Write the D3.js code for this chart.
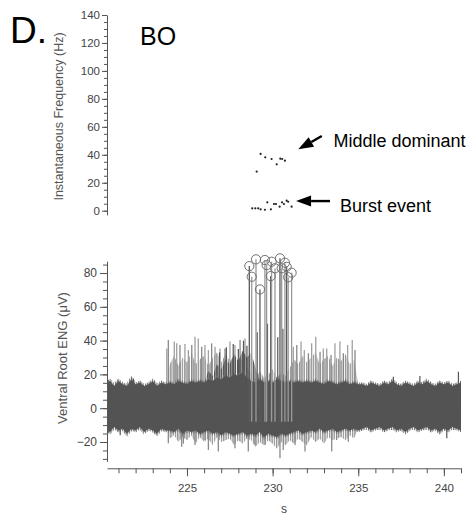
<!DOCTYPE html>
<html><head><meta charset="utf-8">
<script src="https://cdn.jsdelivr.net/npm/d3@7"></script>
<style>html,body{margin:0;padding:0;background:#fff;} svg{display:block;font-family:"Liberation Sans",Arial,sans-serif;}</style>
</head><body><svg id="c" width="475" height="517"></svg>
<script>
// ---------- DATA ----------
const timeTicks = [225, 230, 235, 240];
const freqTicks = [0, 20, 40, 60, 80, 100, 120, 140];
const engTicks = [-20, 0, 20, 40, 60, 80];

// Instantaneous frequency (top panel)
const middleT  = [229.07, 229.30, 229.57, 229.94, 230.24, 230.45, 230.56, 230.72];
const middleHz = [28.0, 40.6, 38.2, 37.0, 33.2, 37.2, 37.0, 35.8];
const burstT  = [228.81, 228.99, 229.16, 229.30, 229.55, 229.69, 229.90, 230.08, 230.20, 230.41, 230.55, 230.66, 230.82, 230.91, 231.11];
const burstHz = [1.7, 1.7, 1.7, 1.0, 0.7, 6.0, 1.0, 4.8, 4.8, 2.9, 6.0, 4.8, 7.2, 6.4, 2.9];

// Ventral root ENG: dense noise band envelope (sampled every 0.25 s from 220.25 s)
const envStart = 220.25, envStep = 0.25;
const envHi = [14,16,13,16,14,13,17,14,15,13,14,16,13,15,14,
               15,14,16,15,14,16,15,16,
               15,17,16,18,17,19,18,20,19,21,18,
               16,15,17,15,16,15,17,16,15,16,
               15,16,15,16,15,16,15,14,16,15,14,15,16,14,15,14,
               14,13,15,14,13,15,14,16,14,13,15,14,13,15,14,16,14,13,15,14,15,13,14,15];
const envLo = [-12,-14,-11,-13,-12,-15,-12,-13,-11,-14,-12,-13,-15,-12,-13,
               -13,-14,-12,-15,-13,-14,-13,-15,-14,-13,-15,-14,-16,-14,-15,-16,-15,-14,-16,
               -15,-16,-14,-17,-15,-16,-17,-15,-16,-15,
               -14,-13,-15,-14,-13,-14,-12,-14,-13,-12,-14,-13,-12,-13,-12,-13,
               -12,-11,-13,-12,-11,-13,-12,-11,-13,-12,-14,-12,-11,-13,-12,-11,-13,-12,-14,-12,-13,-11,-12,-13];

// lighter burst activity mass (sampled every 0.25 s from 223.75 s)
const lightStart = 223.75, lightStep = 0.25;
const lightHi = [14,26,31,25,30,27,33,26,29,31,25,30,33,27,32,28,31,26,30,24,
                 21,17,22,18,20,23,18,21,19,24,29,26,31,27,30,33,26,29,31,25,
                 30,28,32,26,29,14];
const lightLo = [-12,-18,-16,-20,-17,-19,-16,-21,-17,-20,-18,-22,-17,-20,-19,-18,-22,-19,-21,-18,
                 -19,-23,-20,-22,-19,-21,-24,-20,-22,-19,-21,-18,-20,-22,-17,-20,-18,-21,-17,-19,
                 -18,-17,-19,-16,-18,-12];
// darker dense burst mass (sampled every 0.25 s from 226.0 s)
const midStart = 226.0, midStep = 0.25;
const midHi = [15,22,19,26,23,29,26,32,28,34,30,33,24,15];

// individual burst spikes (upward tips)
const upT = [223.82,223.91,224.26,224.40,224.59,224.88,225.08,225.28,225.47,225.66,225.86,226.05,226.25,226.44,226.64,226.93,227.22,227.51,227.80,228.10,228.39,
             231.21,231.41,231.66,231.85,232.09,232.28,232.52,232.77,232.96,233.16,233.41,233.64,233.93,234.13,234.38,234.65,234.81];
const upV = [35.4,40.4,39.4,38.4,37.4,38.0,34.4,37.4,42.3,41.3,36.4,37.4,34.4,38.4,36.4,35.4,35.4,39.4,37.4,40.4,41.3,
             36.4,37.4,39.4,34.4,32.5,38.4,42.3,33.4,35.4,35.4,31.5,38.4,39.4,32.5,37.4,40.4,34.4];
// downward tips
const negT = [223.91,224.69,224.79,225.47,226.05,226.25,226.83,227.80,228.58,228.97,229.56,230.43,230.62,231.31,231.89,233.45,233.74,234.42];
const negV = [-20.8,-22.8,-21.0,-21.8,-18.8,-24.7,-25.7,-23.7,-25.7,-21.8,-21.8,-29.6,-24.7,-21.8,-25.7,-25.7,-18.8,-19.8];
// dark spikes inside the burst
const darkT = [226.9, 227.3, 227.7, 228.0, 228.3, 228.5, 229.1, 229.7, 230.3, 230.6];
const darkV = [33, 36, 38, 35, 40, 37, 45, 50, 42, 47];
// isolated noise tips outside the burst
const tipT = [221.10, 221.87, 237.05, 238.60, 240.17, 240.85];
const tipV = [-16.0, 17.5, 18.6, 19.0, -17.8, 21.6];
// large detected spikes (circled peaks)
const peakT = [228.64,228.78,229.03,229.26,229.55,229.65,229.89,229.94,230.14,230.43,230.53,230.72,230.82,230.91,231.11];
const peakV = [84.1,77.8,88.1,70.3,87.7,84.7,78.2,86.7,82.8,88.7,82.8,86.1,83.7,77.5,80.2];

// ---------- CHART ----------
const svg = d3.select('#c');
const x = d3.scaleLinear().domain([220.33, 241]).range([107, 461]);
const yTop = d3.scaleLinear().domain([-3, 140]).range([214.9, 15]);
const yBot = d3.scaleLinear().domain([-31.5, 87]).range([461.4, 261.2]);

const defs = svg.append('defs');
function hatch(id, color, w){
  const p = defs.append('pattern').attr('id',id).attr('width',2.3).attr('height',10).attr('patternUnits','userSpaceOnUse');
  p.append('rect').attr('width',w).attr('height',10).attr('fill',color);
}
hatch('hL','#979797',1.4);
hatch('hM','#585858',1.6);
hatch('hF','#707070',1.2);

function styleAxis(g, fs){
  g.selectAll('.domain').attr('stroke','#555');
  g.selectAll('.tick line').attr('stroke','#555');
  g.selectAll('.tick text').attr('fill','#444').style('font-size',fs+'px')
   .style('font-family','"Liberation Sans",Arial,sans-serif');
}

// titles
svg.append('text').attr('x',10).attr('y',43).style('font-size','37px').attr('fill','#000').text('D.');
svg.append('text').attr('x',140).attr('y',45).style('font-size','25px').attr('fill','#000').text('BO');

// top y axis
const gT = svg.append('g').attr('transform','translate(107,0)')
  .call(d3.axisLeft(yTop).tickValues(freqTicks).tickSize(5).tickSizeOuter(0).tickPadding(2).tickFormat(d3.format('d')));
styleAxis(gT, 11.5);
const gTm = svg.append('g').attr('transform','translate(107,0)')
  .call(d3.axisLeft(yTop).tickValues(d3.range(0,141,5)).tickSize(3).tickSizeOuter(0).tickFormat(''));
gTm.select('.domain').remove(); styleAxis(gTm, 11.5);
svg.append('text').attr('transform','translate(63,116.5) rotate(-90)').attr('text-anchor','middle')
  .style('font-size','12.5px').attr('fill','#555').text('Instantaneous Frequency (Hz)');

// top dots
svg.append('g').selectAll('circle').data(middleT.map((t,i)=>[t,middleHz[i]]).concat(burstT.map((t,i)=>[t,burstHz[i]])))
  .join('circle').attr('cx',d=>x(d[0])).attr('cy',d=>yTop(d[1])).attr('r',1.1).attr('fill','#222');

// annotations (positioned in data space)
function arrow(t0,v0,t1,v1){
  const x0=x(t0), y0=yTop(v0), x1=x(t1), y1=yTop(v1);
  const a=Math.atan2(y1-y0,x1-x0), L=15, W=5.5;
  const bx=x1-L*Math.cos(a), by=y1-L*Math.sin(a);
  svg.append('line').attr('x1',x0).attr('y1',y0).attr('x2',bx).attr('y2',by).attr('stroke','#000').attr('stroke-width',2.4);
  svg.append('polygon').attr('fill','#000').attr('points',[[x1,y1],[bx+W*Math.sin(a),by-W*Math.cos(a)],[bx-W*Math.sin(a),by+W*Math.cos(a)]].map(p=>p.join(',')).join(' '));
}
arrow(232.87,53.4,231.50,43.9);
arrow(233.35,6.9,231.37,6.9);
svg.append('text').attr('x',x(233.55)).attr('y',yTop(45.8)).style('font-size','18px').attr('fill','#000').text('Middle dominant');
svg.append('text').attr('x',x(233.94)).attr('y',yTop(-0.7)).style('font-size','18px').attr('fill','#000').text('Burst event');

// bottom panel
svg.append('clipPath').attr('id','clp').append('rect').attr('x',107).attr('y',240).attr('width',354).attr('height',230);
const plot = svg.append('g').attr('clip-path','url(#clp)');
const band = d3.area().x(d=>x(d.t)).y0(d=>yBot(d.lo)).y1(d=>yBot(d.hi));

const lightData = lightHi.map((v,i)=>({t:lightStart+i*lightStep,hi:v,lo:lightLo[i]}));
plot.append('path').datum(lightData).attr('fill','url(#hL)').attr('d',band);
plot.append('g').selectAll('line').data(upT.map((t,i)=>[t,upV[i]])).join('line')
  .attr('x1',d=>x(d[0])).attr('x2',d=>x(d[0])).attr('y1',yBot(0)).attr('y2',d=>yBot(d[1]))
  .attr('stroke',(d,i)=>i%3===1?'#888':'#a0a0a0').attr('stroke-width',1.3);
plot.append('g').selectAll('line').data(negT.map((t,i)=>[t,negV[i]])).join('line')
  .attr('x1',d=>x(d[0])).attr('x2',d=>x(d[0])).attr('y1',yBot(0)).attr('y2',d=>yBot(d[1]))
  .attr('stroke','#8a8a8a').attr('stroke-width',1.3);
const midData = midHi.map((v,i)=>({t:midStart+i*midStep,hi:v,lo:0}));
plot.append('path').datum(midData).attr('fill','url(#hM)').attr('d',band);

const envData = envHi.map((v,i)=>({t:envStart+i*envStep,hi:v,lo:envLo[i]}));
plot.append('path').datum(envData).attr('fill','none').attr('stroke','url(#hF)').attr('stroke-width',4)
  .attr('d',band);
plot.append('path').datum(envData).attr('fill','#535353').attr('stroke','#535353').attr('stroke-width',0.6)
  .attr('d',band);
plot.append('g').selectAll('line').data(tipT.map((t,i)=>[t,tipV[i]]).concat(darkT.map((t,i)=>[t,darkV[i]]))).join('line')
  .attr('x1',d=>x(d[0])).attr('x2',d=>x(d[0])).attr('y1',yBot(0)).attr('y2',d=>yBot(d[1]))
  .attr('stroke','#555').attr('stroke-width',1.2);
plot.append('g').selectAll('line').data(peakT.map((t,i)=>[t,peakV[i]])).join('line')
  .attr('x1',d=>x(d[0])).attr('x2',d=>x(d[0])).attr('y1',yBot(-8)).attr('y2',d=>yBot(d[1]))
  .attr('stroke',(d,i)=>i%3===0?'#5a5a5a':'#9a9a9a').attr('stroke-width',1.3);
svg.append('g').selectAll('circle').data(peakT.map((t,i)=>[t,peakV[i]])).join('circle')
  .attr('cx',d=>x(d[0])).attr('cy',d=>yBot(d[1])).attr('r',4.6)
  .attr('fill','none').attr('stroke','#707070').attr('stroke-width',1);

// bottom y axis
const gB = svg.append('g').attr('transform','translate(107,0)')
  .call(d3.axisLeft(yBot).tickValues(engTicks).tickSize(7).tickSizeOuter(0).tickPadding(3).tickFormat(d3.format('d')));
styleAxis(gB, 12);
const gBm = svg.append('g').attr('transform','translate(107,0)')
  .call(d3.axisLeft(yBot).tickValues(d3.range(-30,86,5)).tickSize(4).tickSizeOuter(0).tickFormat(''));
gBm.select('.domain').remove(); styleAxis(gBm, 12);
svg.append('text').attr('transform','translate(66.5,358) rotate(-90)').attr('text-anchor','middle')
  .style('font-size','13px').attr('fill','#555').text('Ventral Root ENG (\u03bcV)');

// x axis
const gX = svg.append('g').attr('transform','translate(0,468.3)')
  .call(d3.axisBottom(x).tickValues(timeTicks).tickSize(8).tickSizeOuter(0).tickPadding(8).tickFormat(d3.format('d')));
styleAxis(gX, 11.5);
const gXm = svg.append('g').attr('transform','translate(0,468.3)')
  .call(d3.axisBottom(x).tickValues(d3.range(221,242,1)).tickSize(5).tickSizeOuter(0).tickFormat(''));
gXm.select('.domain').remove(); styleAxis(gXm, 11.5);
svg.append('text').attr('x',284).attr('y',513).attr('text-anchor','middle').style('font-size','12px').attr('fill','#444').text('s');
</script></body></html>
